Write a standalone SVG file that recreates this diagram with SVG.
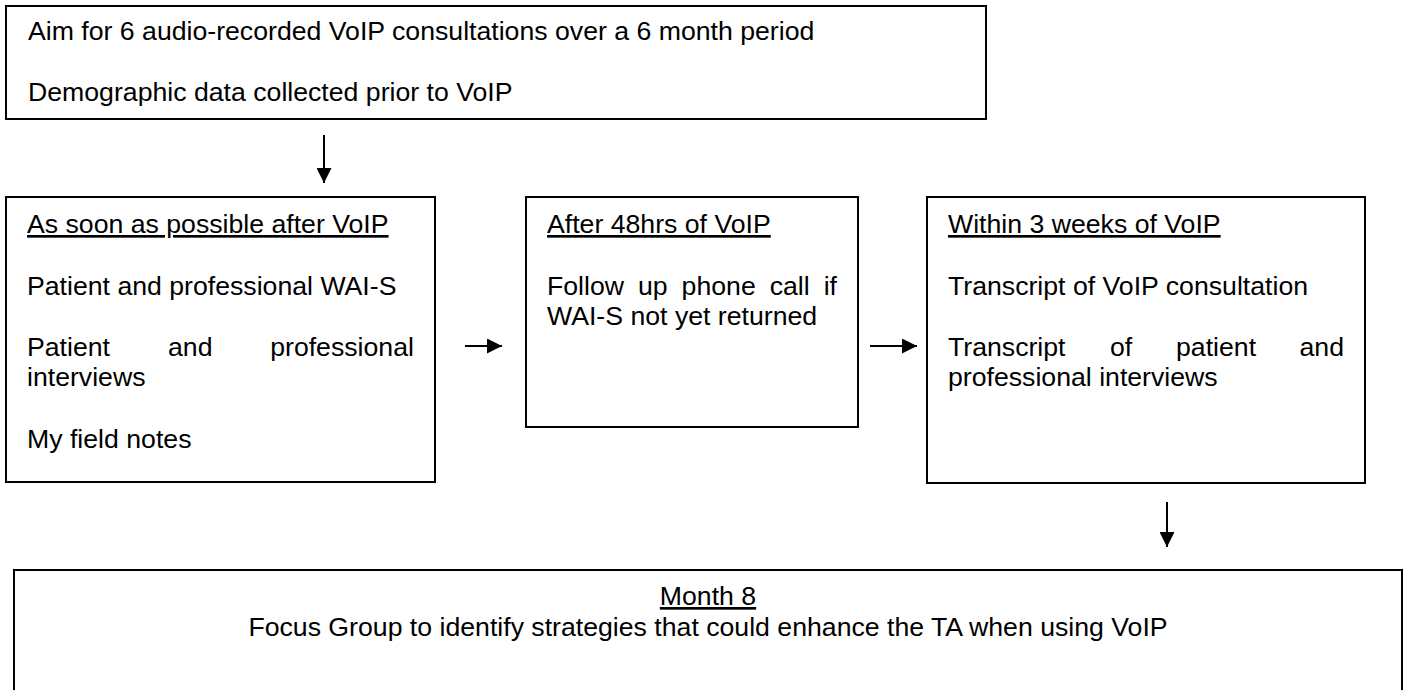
<svg xmlns="http://www.w3.org/2000/svg" width="1406" height="690" viewBox="0 0 1406 690">
  <defs>
    <marker id="arrowhead" viewBox="0 0 10 10" refX="10" refY="5" markerWidth="7.5" markerHeight="7.5" markerUnits="strokeWidth" orient="auto">
      <path d="M0,0 L10,5 L0,10 Z" fill="#000"/>
    </marker>
    <style>
      .box { fill: #fff; stroke: #000; stroke-width: 2; }
      .txt { font-family: "Liberation Sans", Arial, sans-serif; font-size: 26.67px; fill: #000; }
      .head { text-decoration: underline; }
      .mid { text-anchor: middle; }
      .end { text-anchor: end; }
      .conn { stroke: #000; stroke-width: 2; fill: none; marker-end: url(#arrowhead); }
    </style>
  </defs>
  <rect width="1406" height="690" fill="#fff"/>

  <!-- Recruitment target and baseline data -->
  <g id="aim">
    <rect class="box" x="6" y="6" width="980" height="113"/>
    <text class="txt" x="28" y="40">Aim for 6 audio-recorded VoIP consultations over a 6 month period</text>
    <text class="txt" x="28" y="101">Demographic data collected prior to VoIP</text>
  </g>

  <!-- Immediately after the consultation -->
  <g id="after-voip">
    <rect class="box" x="6" y="197" width="429" height="285"/>
    <text class="txt head" x="27" y="233">As soon as possible after VoIP</text>
    <text class="txt" x="27" y="295">Patient and professional WAI-S</text>
    <text class="txt" y="356"><tspan x="27">Patient</tspan><tspan x="168">and</tspan><tspan x="270.2">professional</tspan></text>
    <text class="txt" x="27" y="386">interviews</text>
    <text class="txt" x="27" y="448">My field notes</text>
  </g>

  <!-- 48 hour follow-up -->
  <g id="after-48hrs">
    <rect class="box" x="526" y="197" width="332" height="230"/>
    <text class="txt head" x="547" y="233">After 48hrs of VoIP</text>
    <text class="txt" y="295"><tspan x="547">Follow</tspan><tspan x="638">up</tspan><tspan x="681.6">phone</tspan><tspan x="769.7">call</tspan><tspan x="823.7">if</tspan></text>
    <text class="txt" x="547" y="325">WAI-S not yet returned</text>
  </g>

  <!-- Transcription -->
  <g id="within-3-weeks">
    <rect class="box" x="927" y="197" width="438" height="286"/>
    <text class="txt head" x="948" y="233">Within 3 weeks of VoIP</text>
    <text class="txt" x="948" y="295">Transcript of VoIP consultation</text>
    <text class="txt" y="356"><tspan x="948">Transcript</tspan><tspan x="1110">of</tspan><tspan x="1176">patient</tspan><tspan x="1299.5">and</tspan></text>
    <text class="txt" x="948" y="386">professional interviews</text>
  </g>

  <!-- Final focus group -->
  <g id="month-8">
    <rect class="box" x="14" y="570" width="1388" height="140"/>
    <text class="txt head mid" x="708" y="605">Month 8</text>
    <text class="txt mid" x="708" y="636">Focus Group to identify strategies that could enhance the TA when using VoIP</text>
  </g>

  <g id="connectors">
    <line class="conn" x1="324" y1="135" x2="324" y2="183"/>
    <line class="conn" x1="465" y1="346" x2="502" y2="346"/>
    <line class="conn" x1="870" y1="346" x2="917" y2="346"/>
    <line class="conn" x1="1167" y1="502" x2="1167" y2="547"/>
  </g>
</svg>
